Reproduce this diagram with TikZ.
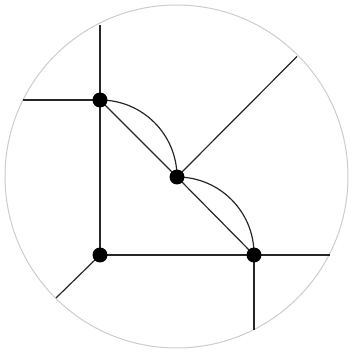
\documentclass[tikz,border=0pt]{standalone}
\begin{document}
\begin{tikzpicture}[x=1pt,y=1pt,
  vtx/.style={circle,fill=black,inner sep=0pt,minimum size=15pt},
  edge/.style={draw=black!85,line width=1.2pt},
  rim/.style={draw=black!20,line width=1pt}]
\useasboundingbox (0,0) rectangle (353,354);
\draw[rim] (176.5,177.5) circle[radius=171.5];
\coordinate (A) at (100,254);
\coordinate (B) at (177,177);
\coordinate (C) at (254,99);
\coordinate (D) at (100,99);
\coordinate (Aup) at (100,329);
\coordinate (Aleft) at (23,254);
\coordinate (Dll) at (56,56);
\coordinate (Cright) at (329.5,99);
\coordinate (Cdown) at (254,24);
\coordinate (Bur) at (297,297.5);
\draw[edge] (A) -- (Aup);
\draw[edge] (A) -- (Aleft);
\draw[edge] (A) -- (D);
\draw[edge] (D) -- (C);
\draw[edge] (D) -- (Dll);
\draw[edge] (C) -- (Cright);
\draw[edge] (C) -- (Cdown);
\draw[edge] (B) -- (Bur);
\draw[edge] (A) -- (B);
\draw[edge] (B) -- (C);
\draw[edge] (A) arc[start angle=90,end angle=0,radius=77];
\draw[edge] (B) arc[start angle=90,end angle=0,radius=77];
\node[vtx] (nA) at (A) {};
\node[vtx] (nB) at (B) {};
\node[vtx] (nC) at (C) {};
\node[vtx] (nD) at (D) {};
\end{tikzpicture}
\end{document}
